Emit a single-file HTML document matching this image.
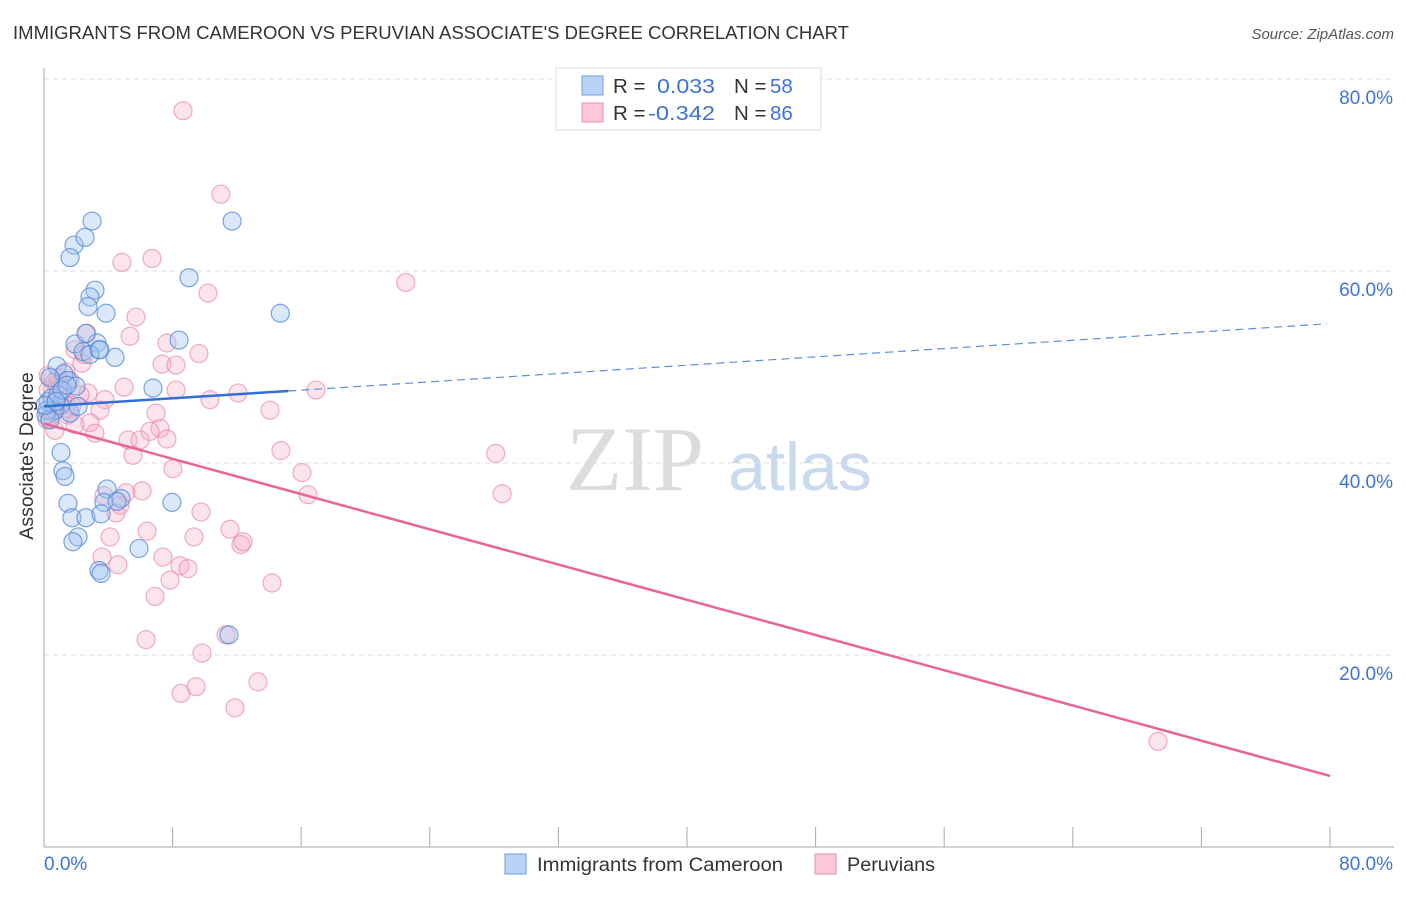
<!DOCTYPE html>
<html><head><meta charset="utf-8"><style>
body{margin:0;background:#fff;font-family:"Liberation Sans",sans-serif}
svg text{font-family:"Liberation Sans",sans-serif}
</style></head><body>
<svg id="chart" width="1406" height="892" xmlns="http://www.w3.org/2000/svg">
<text x="13" y="39" font-size="18.2" fill="#333" textLength="836" lengthAdjust="spacingAndGlyphs">IMMIGRANTS FROM CAMEROON VS PERUVIAN ASSOCIATE'S DEGREE CORRELATION CHART</text>
<text x="1394" y="39" font-size="15" fill="#555" text-anchor="end" font-style="italic">Source: ZipAtlas.com</text>
<g>
<text x="635" y="490" font-size="92" fill="#dcdcdc" text-anchor="middle" font-family="Liberation Serif" style="font-family:'Liberation Serif',serif">ZIP</text>
<text x="800" y="490" font-size="68" fill="#c9d9ee" text-anchor="middle">atlas</text>
</g>
<g id="grid"></g>
<g id="axes"></g>
<g id="pts"></g>
<g id="trend"></g>
<text transform="translate(33,456) rotate(-90)" font-size="19.5" fill="#333" text-anchor="middle">Associate's Degree</text>
<g>
<rect x="556" y="68" width="265" height="62" fill="#fff" stroke="#ddd"/>
<rect x="582" y="76" width="21" height="19" fill="#b8d3f5" stroke="#6e9ee0"/>
<rect x="582" y="103" width="21" height="19" fill="#fbc8d7" stroke="#ee8fac"/>
<text x="613" y="93" font-size="20.5" fill="#333">R =</text>
<text x="657" y="93" font-size="20.5" fill="#3f73d2" textLength="58" lengthAdjust="spacingAndGlyphs">0.033</text>
<text x="734" y="93" font-size="20.5" fill="#333">N =</text>
<text x="770" y="93" font-size="20.5" fill="#3f73d2">58</text>
<text x="613" y="120" font-size="20.5" fill="#333">R =</text>
<text x="648" y="120" font-size="20.5" fill="#3f73d2" textLength="67" lengthAdjust="spacingAndGlyphs">-0.342</text>
<text x="734" y="120" font-size="20.5" fill="#333">N =</text>
<text x="770" y="120" font-size="20.5" fill="#3f73d2">86</text>
</g>
<g>
<rect x="505" y="854" width="21" height="20" fill="#b8d3f5" stroke="#6e9ee0"/>
<text x="537" y="871" font-size="19.8" fill="#333" textLength="246" lengthAdjust="spacingAndGlyphs">Immigrants from Cameroon</text>
<rect x="815" y="854" width="21" height="20" fill="#fbc8d7" stroke="#ee8fac"/>
<text x="847" y="871" font-size="19.8" fill="#333" textLength="88" lengthAdjust="spacingAndGlyphs">Peruvians</text>
</g>
</svg>
<script>
const blueX=[2.99,1.87,2.55,1.62,3.17,2.86,2.74,3.86,9.02,11.7,14.7,8.40,3.30,1.93,2.61,4.42,2.43,3.42,0.81,1.24,1.49,1.99,0.37,0.25,0.5,1.0,1.62,0.68,0.19,6.78,2.12,1.06,1.18,1.31,1.49,1.74,2.61,2.12,1.80,3.92,3.73,3.55,4.79,4.54,7.96,5.91,3.42,3.55,11.5,0.12,0.37,0.87,2.86,3.48,1.12,0.06,1.43,0.75];
const blueY=[65.2,62.7,63.5,61.4,58.0,57.3,56.3,55.6,59.3,65.2,55.6,52.8,52.5,52.4,53.5,51.0,51.6,51.8,50.1,49.3,48.6,48.0,48.9,46.4,46.8,46.0,45.2,45.5,45.5,47.8,45.9,41.1,39.2,38.6,35.8,34.3,34.3,32.3,31.8,37.3,35.9,34.7,36.3,36.0,35.9,31.1,28.8,28.5,22.1,45.0,44.5,47.1,51.3,51.8,47.6,46.0,48.1,46.4];
const pinkX=[8.65,11.0,4.85,6.72,22.5,10.2,5.72,5.35,2.67,7.65,9.64,1.93,7.34,8.21,2.36,4.98,8.21,12.07,10.33,16.92,0.87,0.62,1.62,2.74,3.79,2.24,1.18,3.48,6.97,14.06,0.37,1.49,2.86,3.17,7.22,6.59,7.65,5.23,5.97,5.54,14.74,28.1,8.02,16.05,16.42,28.5,3.73,5.10,6.10,4.73,4.48,9.77,6.41,4.11,9.33,11.57,12.25,12.38,3.61,7.40,4.60,8.46,8.96,7.84,14.18,6.91,6.35,11.32,9.83,8.52,9.46,13.31,11.88,69.3,0.19,0.5,1.0,1.31,0.81,1.74,0.25,1.93,1.37,2.49,0.25,0.68];
const pinkY=[76.7,68.0,60.9,61.3,58.8,57.7,55.2,53.2,53.5,52.5,51.4,51.8,50.3,50.2,50.4,47.9,47.6,47.3,46.6,47.6,48.9,48.4,48.6,47.3,46.6,47.1,46.3,45.5,45.2,45.5,44.5,45.0,44.2,43.1,43.6,43.3,42.5,42.4,42.4,40.8,41.3,41.0,39.4,39.0,36.7,36.8,36.6,36.9,37.1,35.6,34.8,34.9,32.9,32.3,32.3,33.1,31.5,31.8,30.2,30.2,29.4,29.3,29.0,27.8,27.5,26.1,21.6,22.1,20.2,16.0,16.7,17.2,14.5,11.0,44.5,45.3,47.0,45.7,48.1,46.0,47.6,44.0,49.5,51.3,49.1,43.4];
const yTicks=[20,40,60,80];
const yTickLabels=["20.0%","40.0%","60.0%","80.0%"];
const xTicks=[0,8,16,24,32,40,48,56,64,72,80];
const blueTrend=[[0,45.9],[15.2,47.5],[79.8,54.5]];
const pinkTrend=[[0,44.1],[80,7.4]];
const X=v=>44+v*16.075, Y=v=>847-v*9.6;
const NS="http://www.w3.org/2000/svg";
function mk(parent,tag,attrs){const e=document.createElementNS(NS,tag);for(const k in attrs)e.setAttribute(k,attrs[k]);document.getElementById(parent).appendChild(e);return e;}
yTicks.forEach((t,i)=>{
  const l=mk('grid','line',{x1:44,x2:1394,y1:Y(t),y2:Y(t),stroke:'#ddd','stroke-dasharray':'5,4'});
  
  
  const tx=mk('grid','text',{x:1393,y:Y(t)+25,'font-size':19,fill:'#3f73d2','text-anchor':'end'});
  tx.textContent=yTickLabels[i];
  
  
});
const ax=mk('axes','line',{x1:44,x2:44,y1:68,y2:847,stroke:'#aaa'});


const bx=mk('axes','line',{x1:44,x2:1394,y1:847,y2:847,stroke:'#aaa'});


xTicks.forEach(t=>{const l=mk('axes','line',{x1:X(t),x2:X(t),y1:827,y2:847,stroke:'#aaa'});
  
  });
const xl0=mk('axes','text',{x:44,y:870,'font-size':19,fill:'#3f73d2'});xl0.textContent='0.0%';


const xl1=mk('axes','text',{x:1393,y:870,'font-size':19,fill:'#3f73d2','text-anchor':'end'});xl1.textContent='80.0%';


pinkX.forEach((v,i)=>{const c=mk('pts','circle',{cx:X(v),cy:Y(pinkY[i]),r:9,fill:'rgba(246,170,195,0.32)',stroke:'rgba(232,130,162,0.65)','stroke-width':1.2});
  
  });
blueX.forEach((v,i)=>{const c=mk('pts','circle',{cx:X(v),cy:Y(blueY[i]),r:9,fill:'rgba(160,195,240,0.38)',stroke:'rgba(80,135,215,0.75)','stroke-width':1.2});
  
  });
const b1=mk('trend','line',{x1:X(blueTrend[0][0]),y1:Y(blueTrend[0][1]),x2:X(blueTrend[1][0]),y2:Y(blueTrend[1][1]),stroke:'#2f6fd6','stroke-width':2.5});


const b2=mk('trend','line',{x1:X(blueTrend[1][0]),y1:Y(blueTrend[1][1]),x2:X(blueTrend[2][0]),y2:Y(blueTrend[2][1]),stroke:'#5b8ee0','stroke-width':1.2,'stroke-dasharray':'8,5'});


const p1=mk('trend','line',{x1:X(pinkTrend[0][0]),y1:Y(pinkTrend[0][1]),x2:X(pinkTrend[1][0]),y2:Y(pinkTrend[1][1]),stroke:'#e8658f','stroke-width':2.5});


</script>
</body></html>
